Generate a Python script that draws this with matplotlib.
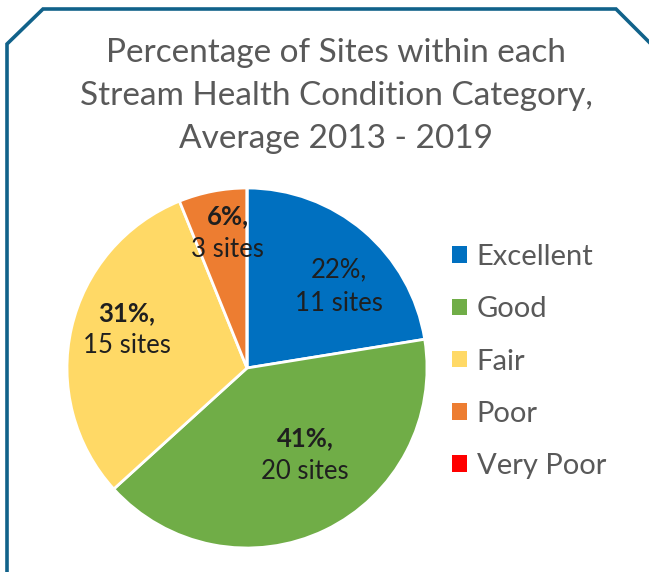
import numpy as np
import matplotlib as mpl
import matplotlib.pyplot as plt
from matplotlib.lines import Line2D

mpl.rcParams['font.family'] = ['Lato', 'DejaVu Sans']

# ---------------------------------------------------------------------------
# data

categories = ['Excellent', 'Good', 'Fair', 'Poor', 'Very Poor']
sites = [11, 20, 15, 3, 0]
colors = ['#0070C0', '#70AD47', '#FFD966', '#ED7D31', '#FF0000']
bold_pct = [False, True, True, True, False]

title = 'Percentage of Sites within each\nStream Health Condition Category,\nAverage 2013 - 2019'

# label placement tweaks: (radius, angle offset in degrees)
label_layout = [(0.68, -8), (0.58, 8), (0.70, -5), (0.76, -3), (0.7, 0)]

# ---------------------------------------------------------------------------
# figure

fig = plt.figure(figsize=(6.49, 5.72), dpi=100)
fig.patch.set_facecolor('white')

# chamfered border
W, H = 649.0, 572.0
bx = np.array([7, 7, 43, 616, 649]) / W
by = 1 - np.array([H + 5, 44, 9, 9, 42]) / H
fig.add_artist(Line2D(bx, by, color='#11628a', lw=2.6, transform=fig.transFigure,
                      solid_joinstyle='miter'))

fig.text(0.518, 1 - 96 / H, title, ha='center', va='center', fontsize=24,
         color='#595959', linespacing=1.55)

cx, cy, r = 247, 368, 180
ax = fig.add_axes([(cx - r) / W, 1 - (cy + r) / H, 2 * r / W, 2 * r / H])
total = float(sum(sites))
wedges, _ = ax.pie(sites, colors=colors, startangle=90, counterclock=False,
                   radius=1, wedgeprops=dict(edgecolor='white', linewidth=2))
ax.set_xlim(-1, 1)
ax.set_ylim(-1, 1)
ax.set_aspect('equal')
ax.axis('off')

for i, w in enumerate(wedges):
    if sites[i] == 0:
        continue
    rad, off = label_layout[i]
    ang = np.deg2rad((w.theta1 + w.theta2) / 2 + off)
    x, y = rad * np.cos(ang), rad * np.sin(ang)
    pct = '{0:.0f}%,'.format(100 * sites[i] / total)
    ax.text(x, y + 0.092, pct, ha='center', va='center', fontsize=18.5,
            color='#1f1f1f', fontweight='bold' if bold_pct[i] else 'normal')
    ax.text(x, y - 0.092, '{0} sites'.format(sites[i]), ha='center', va='center',
            fontsize=18.5, color='#1f1f1f')

leg = fig.legend(wedges, categories, loc='upper left',
                 bbox_to_anchor=(452 / W, 1 - 244 / H), frameon=False,
                 fontsize=21, labelcolor='#595959', handlelength=0.5,
                 handleheight=0.5, handletextpad=0.35, labelspacing=0.9,
                 borderpad=0, borderaxespad=0)
for h in leg.legend_handles:
    h.set_edgecolor('none')

fig.savefig('out.png', dpi=100, facecolor='white')
